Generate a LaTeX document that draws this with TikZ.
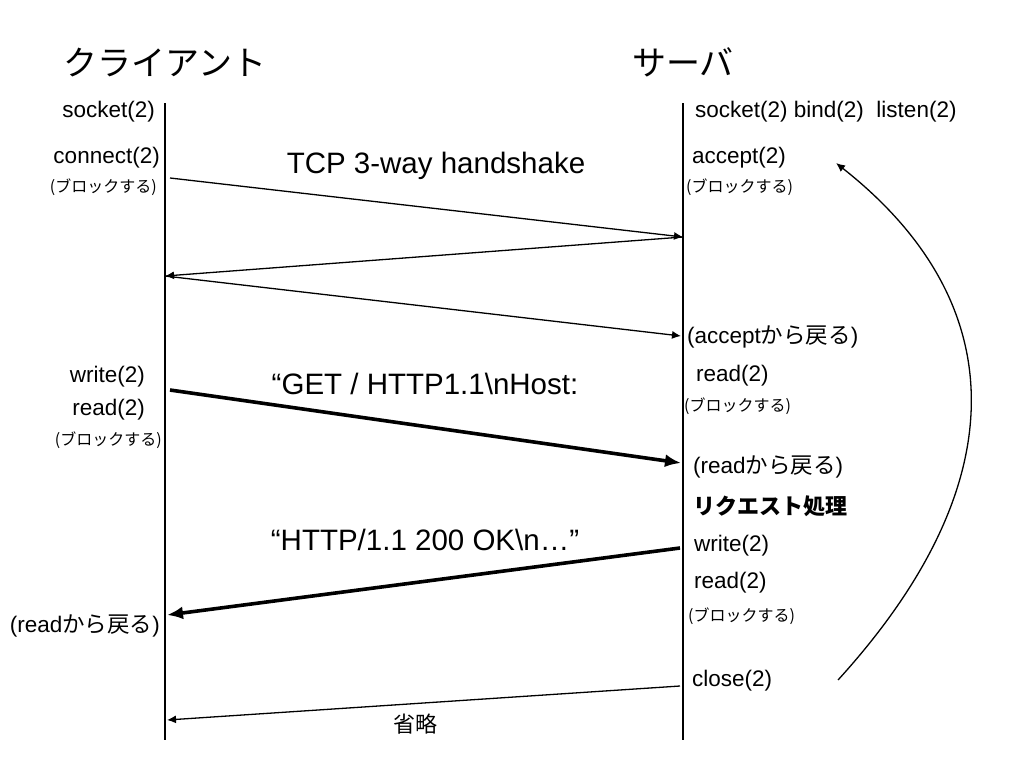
\documentclass[tikz,border=0pt]{standalone}
\usepackage{fontspec}
\setmainfont{Liberation Sans}
\newfontfamily\jp{Noto Sans CJK JP}
\usepackage{tikz}
\usetikzlibrary{arrows.meta, positioning}

\begin{document}
\begin{tikzpicture}[
  x=1pt, y=-1pt,
  title/.style = {
    inner sep=0pt,
    font=\jp\fontsize{34}{38}\selectfont
  },
  call/.style = {
    inner sep=0pt,
    font=\fontsize{22.5}{26}\selectfont
  },
  note/.style = {
    inner sep=0pt,
    font=\jp\fontsize{16}{18}\selectfont
  },
  msg/.style = {
    inner sep=0pt,
    font=\fontsize{29.5}{34}\selectfont
  },
  life/.style = {line width=1.6pt},
  arrow/.style = {line width=1.3pt, -{Latex[length=9pt, width=8pt]}},
  bigarrow/.style = {line width=3.6pt, -{Latex[length=16pt, width=13pt]}},
  node distance=24pt
]

\useasboundingbox (0,0) rectangle (1024,768);

% ======================================================
% LIFELINES
% ======================================================

\coordinate (ctop) at (165,103);
\coordinate (cbot) at (165,740);
\coordinate (stop) at (683,103);
\coordinate (sbot) at (683,740);

\draw[life] (ctop) -- (cbot);
\draw[life] (stop) -- (sbot);

\node[title, above=26pt of ctop] (client) {クライアント};
\node[title, above=26pt of stop] (server) {サーバ};

% ======================================================
% CLIENT SIDE
% ======================================================

\node[call, anchor=east] (csocket) at (155,112) {socket(2)};
\node[call, anchor=east] (cconnect) at (160,158) {connect(2)};
\node[note, anchor=east] (cblock1) at (157,187) {(ブロックする)};
\node[call, anchor=east] (cwrite) at (145,377) {write(2)};
\node[call, anchor=east] (cread) at (145,410) {read(2)};
\node[note, anchor=east] (cblock2) at (162,440) {(ブロックする)};
\node[call, anchor=east] (cret) at (160,626) {(read{\jp から戻る})};

% ======================================================
% SERVER SIDE
% ======================================================

\node[call, anchor=west] (ssocket) at (695,112) {socket(2) bind(2)\ \ listen(2)};
\node[call, anchor=west] (saccept) at (692,158) {accept(2)};
\node[note, anchor=west] (sblock1) at (686,187) {(ブロックする)};
\node[call, anchor=west] (sacceptret) at (687,337) {(accept{\jp から戻る})};
\node[call, anchor=west] (sread1) at (696,376) {read(2)};
\node[note, anchor=west] (sblock2) at (684,406) {(ブロックする)};
\node[call, anchor=west] (sreadret) at (693,467) {(read{\jp から戻る})};
\node[call, anchor=west, font=\jp\bfseries\fontsize{22}{26}\selectfont] (sproc) at (693,506) {リクエスト処理};
\node[call, anchor=west] (swrite) at (694,546) {write(2)};
\node[call, anchor=west] (sread2) at (694,583) {read(2)};
\node[note, anchor=west] (sblock3) at (688,616) {(ブロックする)};
\node[call, anchor=west] (sclose) at (692,681) {close(2)};

% ---- Message points ----
\coordinate (syn) at (170,178);
\coordinate (synack) at (683,237);
\coordinate (ack) at (165,276);
\coordinate (acked) at (681,336);
\coordinate (req) at (170,390);
\coordinate (reqed) at (681,463);
\coordinate (res) at (680,548);
\coordinate (resed) at (167,615);
\coordinate (fin) at (680,686);
\coordinate (fined) at (167,720);
\coordinate (loopfrom) at (838,680);
\coordinate (loopto) at (836,163);

% ---- Arrows ----
\draw[arrow] (syn) -- (synack);
\draw[arrow] (synack) -- (ack);
\draw[arrow] (ack) -- (acked);
\draw[bigarrow] (req) -- (reqed);
\draw[bigarrow] (res) -- (resed);
\draw[arrow] (fin) -- (fined);
\draw[arrow] (loopfrom) .. controls (1020,480) and (1010,300) .. (loopto);

% ---- Message labels ----
\node[msg] (handshake) at (436,166) {TCP 3-way handshake};
\node[msg] (getmsg) at (425,384) {“GET / HTTP1.1\textbackslash nHost:};
\node[msg] (okmsg) at (425,540) {“HTTP/1.1 200 OK\textbackslash n…”};
\node[call, font=\jp\fontsize{22}{26}\selectfont] (omit) at (415,724) {省略};

\end{tikzpicture}
\end{document}
